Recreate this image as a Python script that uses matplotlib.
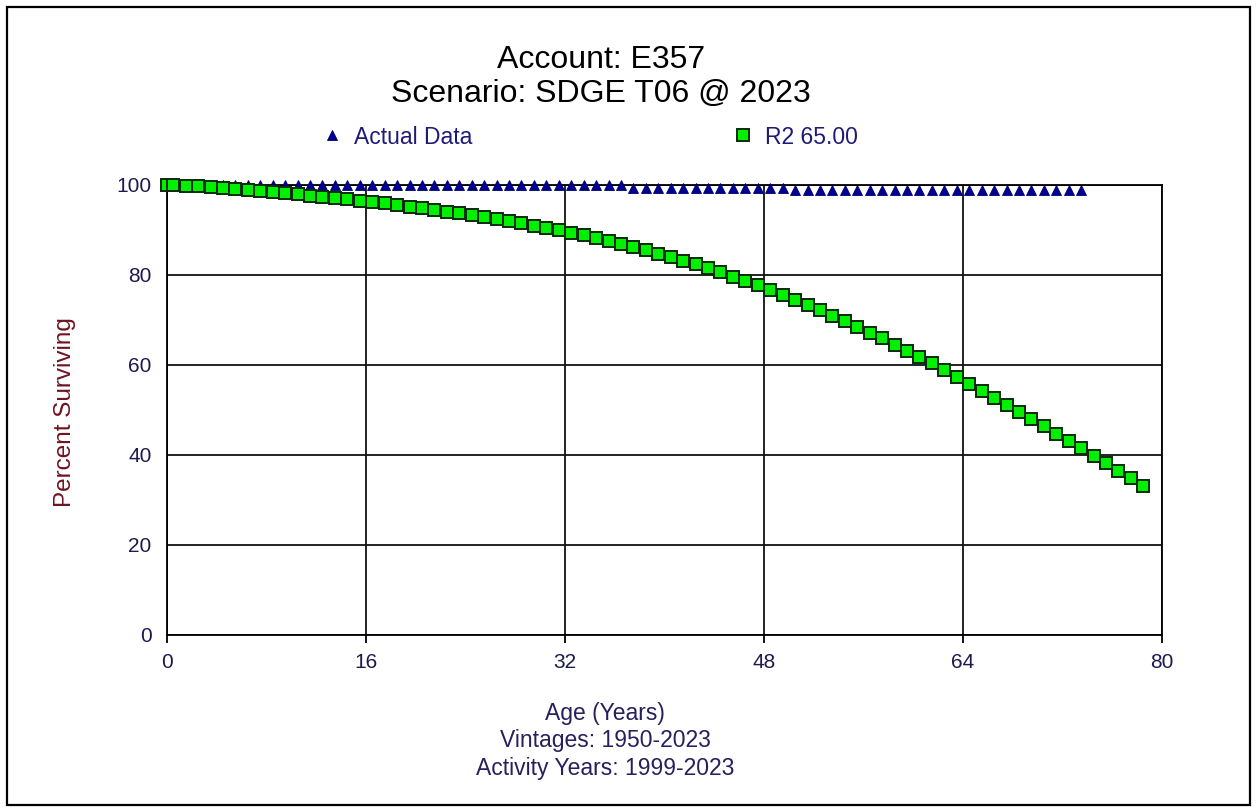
import matplotlib.pyplot as plt
from matplotlib.patches import Rectangle

plt.rcParams["font.family"] = ["Liberation Sans", "DejaVu Sans"]

# ages at which survivors are measured (0, 0.5, 1.5, ...)
curve_age = [0] + [a + 0.5 for a in range(79)]
curve_pct = [
    100.0, 99.95, 99.85, 99.7, 99.5, 99.3, 99.1, 98.9, 98.65, 98.4,
    98.15, 97.9, 97.65, 97.4, 97.1, 96.8, 96.5, 96.2, 95.9, 95.55,
    95.2, 94.85, 94.5, 94.1, 93.7, 93.3, 92.9, 92.45, 92.0, 91.5,
    91.0, 90.5, 89.95, 89.4, 88.8, 88.2, 87.55, 86.9, 86.2, 85.5,
    84.75, 84.0, 83.2, 82.35, 81.5, 80.6, 79.65, 78.7, 77.7, 76.65,
    75.6, 74.5, 73.35, 72.2, 71.0, 69.75, 68.5, 67.2, 65.9, 64.55,
    63.2, 61.8, 60.4, 58.95, 57.3, 55.8, 54.3, 52.75, 51.2, 49.6,
    48.0, 46.4, 44.75, 43.1, 41.45, 39.8, 38.15, 36.5, 34.85, 33.2,
]

actual_age = [0] + [a + 0.5 for a in range(74)]
actual_pct = (
    [100.0] + [99.9] * 37      # 0 .. 36.5
    + [99.3] * 13              # 37.5 .. 49.5
    + [98.9] * 24              # 50.5 .. 73.5
)

x_ticks = [0, 16, 32, 48, 64, 80]
y_ticks = [0, 20, 40, 60, 80, 100]

W, H = 1258, 810
fig = plt.figure(figsize=(W / 100, H / 100), dpi=100)
fig.patch.set_facecolor("white")

# outer frame
fig.add_artist(Rectangle((7 / W, 5 / H), 1243 / W, 798 / H, transform=fig.transFigure,
                         fill=False, edgecolor="black", linewidth=1.6))

ax = fig.add_axes([167 / W, 1 - 635 / H, (1162 - 167) / W, (635 - 185) / H])
ax.set_xlim(0, 80)
ax.set_ylim(0, 100)
ax.set_xticks(x_ticks)
ax.set_yticks(y_ticks)
ax.grid(True, color="#111111", linewidth=1.3)
ax.set_axisbelow(True)
for s in ax.spines.values():
    s.set_color("black")
    s.set_linewidth(1.3)

tick_color = "#1e1a50"
ax.tick_params(axis="x", length=6, width=1.3, pad=7, labelsize=15, labelcolor=tick_color)
ax.tick_params(axis="y", length=0, pad=11, labelsize=15, labelcolor=tick_color)

ax.plot(actual_age, actual_pct, linestyle="none", marker="^", markersize=6.5,
        color="#000090", markeredgecolor="#000070", markeredgewidth=0.6,
        clip_on=False, zorder=3, label="Actual Data")
ax.plot(curve_age, curve_pct, linestyle="none", marker="s", markersize=8.5,
        markerfacecolor="#00f000", markeredgecolor="#0a2a0a", markeredgewidth=1.4,
        clip_on=False, zorder=4, label="R2 65.00")

leg = fig.legend(loc="center left", bbox_to_anchor=(321 / W, 1 - 137 / H),
                 ncol=2, frameon=False, fontsize=16.5, handlelength=1.0,
                 handletextpad=0.46, columnspacing=11.3, borderpad=0,
                 borderaxespad=0, numpoints=1)
for t in leg.get_texts():
    t.set_color("#1e1a78")

fig.text(601 / W, 1 - 77 / H, "Account: E357\nScenario: SDGE T06 @ 2023",
         ha="center", va="center", fontsize=23, linespacing=1.2, color="black")

fig.text(65 / W, 1 - 412 / H, "Percent Surviving", rotation=90,
         ha="center", va="center", fontsize=17.5, color="#6e1420")

fig.text(605 / W, 1 - 741 / H,
         "Age (Years)\nVintages: 1950-2023\nActivity Years: 1999-2023",
         ha="center", va="center", fontsize=16.5, linespacing=1.25, color="#2a1e5e")

fig.savefig("out.png", dpi=100)
